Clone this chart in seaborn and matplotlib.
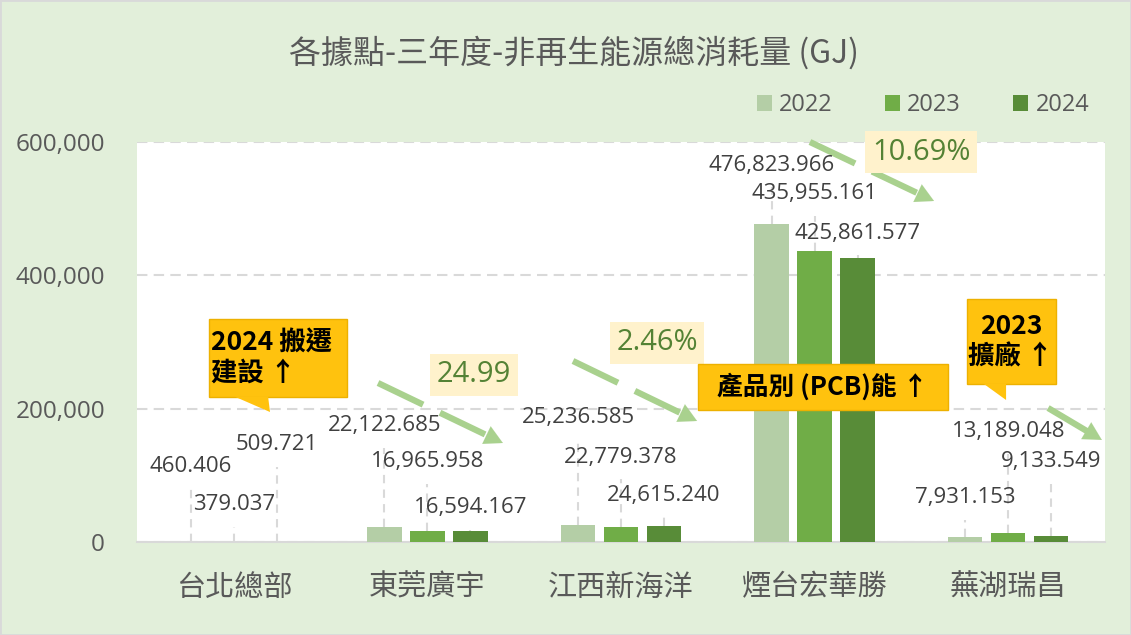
import pandas as pd
import matplotlib.pyplot as plt
import seaborn as sns
from matplotlib.patches import Patch, Rectangle, Polygon
from matplotlib.ticker import FuncFormatter

# data
sites = ['台北總部', '東莞廣宇', '江西新海洋', '煙台宏華勝', '蕪湖瑞昌']
years = ['2022', '2023', '2024']
v2022 = [460.406, 22122.685, 25236.585, 476823.966, 7931.153]
v2023 = [379.037, 16965.958, 22779.378, 435955.161, 13189.048]
v2024 = [509.721, 16594.167, 24615.240, 425861.577, 9133.549]
colors = ['#B4CEA6', '#70AD47', '#588C38']

# label heights (layout, data units)
lab_2022 = [112500, 174000, 187500, 565500, 66000]
lab_2023 = [55500, 120000, 127500, 522000, 165000]
lab_2024 = [145500, 51000, 70500, 463500, 120000]

df = pd.DataFrame({
    'site': sites * 3,
    'year': [y for y in years for _ in sites],
    'value': v2022 + v2023 + v2024,
})

plt.rcParams['font.family'] = ['Noto Sans CJK TC', 'DejaVu Sans']
num_font = ['Open Sans', 'DejaVu Sans']
grey = '#595959'

fig = plt.figure(figsize=(11.31, 6.35), dpi=100, facecolor='#E2EFDA')
ax = fig.add_axes([137 / 1131, 1 - 542 / 635, 968 / 1131, 400 / 635])
ax.set_facecolor('white')

sns.barplot(data=df, x='site', y='value', hue='year', palette=colors, saturation=1,
            width=0.666, gap=0.2, legend=False, ax=ax, zorder=3)

ax.set_xlim(-0.5, 4.5)
ax.set_ylim(0, 600000)
ax.set_yticks([0, 200000, 400000, 600000])
ax.yaxis.set_major_formatter(FuncFormatter(lambda v, p: f'{v:,.0f}'))
ax.set_xlabel('')
ax.set_ylabel('')
ax.grid(axis='y', color='#D9D9D9', linestyle=(0, (5, 3)), linewidth=1.5, zorder=0)
for s in ['top', 'left', 'right']:
    ax.spines[s].set_visible(False)
ax.spines['bottom'].set_color('#D9D9D9')
ax.spines['bottom'].set_linewidth(1.5)
ax.tick_params(axis='both', length=0)
ax.tick_params(axis='y', pad=23, labelsize=17.5, labelcolor=grey)
ax.tick_params(axis='x', pad=22, labelsize=21, labelcolor=grey)
for t in ax.get_yticklabels():
    t.set_family(num_font)

# value labels with dashed leader lines
labs = [lab_2022, lab_2023, lab_2024]
vals = [v2022, v2023, v2024]
for cont, ly, vv in zip(ax.containers, labs, vals):
    for bar, y, v in zip(cont, ly, vv):
        x = bar.get_x() + bar.get_width() / 2
        if y - 33000 > v:
            ax.plot([x, x], [v, y - 33000], color='#D9D9D9', lw=1.5,
                    ls=(0, (4, 3)), zorder=2)
        ax.text(x, y, f'{v:,.3f}', ha='center', va='center', fontsize=16,
                color='#404040', family=num_font, zorder=5)

# trend arrows
arrows = [((0.745, 238500), (1.390, 148500), (0, (8, 3))),
          ((1.752, 271500), (2.393, 181500), (0, (8, 3))),
          ((2.976, 600000), (3.617, 511500), (0, (8, 3))),
          ((4.206, 201000), (4.484, 153000), '-')]
acol = '#A9D18E'
for (x0, y0), (x1, y1), ls in arrows:
    fx = 0.86
    xm, ym = x0 + (x1 - x0) * fx, y0 + (y1 - y0) * fx
    ax.plot([x0, xm], [y0, ym], color=acol, lw=4.5, ls=ls,
            solid_capstyle='butt', clip_on=False, zorder=4)
    ax.annotate('', xy=(x1, y1), xytext=(xm, ym), annotation_clip=False,
                arrowprops=dict(arrowstyle='-|>,head_length=1.3,head_width=0.7',
                                color=acol, lw=0.1, shrinkA=0, shrinkB=0), zorder=4)

# percentage boxes
for x, y, s in [(1.241, 250500, '24.99'), (2.186, 298500, '2.46%'),
                (3.550, 585000, '10.69%')]:
    ax.text(x, y, s, ha='center', va='center', fontsize=21, color='#548235',
            family=num_font, zorder=6,
            bbox=dict(boxstyle='square,pad=0.22', fc='#FFF2CC', ec='none'))

# callout boxes
gold = '#FFC20E'
gold_ec = '#EDB100'
ax.add_patch(Rectangle((-0.128, 217500), 0.713, 117000, fc=gold, ec=gold_ec,
                       lw=1, clip_on=False, zorder=6))
ax.add_patch(Polygon([(0.001, 218500), (0.187, 195000), (0.177, 218500)],
                     fc=gold, ec='none', clip_on=False, zorder=6))
ax.text(-0.118, 276000, '2024 搬遷\n建設 ↑', ha='left', va='center',
        fontsize=19, fontweight='bold', linespacing=1.15, zorder=7)

ax.add_patch(Rectangle((2.398, 198000), 1.291, 69000, fc=gold, ec=gold_ec,
                       lw=1, clip_on=False, zorder=6))
ax.text(3.043, 232500, '產品別 (PCB)能 ↑', ha='center', va='center',
        fontsize=18.5, fontweight='bold', zorder=7)

ax.add_patch(Rectangle((3.787, 237000), 0.460, 127500, fc=gold, ec=gold_ec,
                       lw=1, clip_on=False, zorder=6))
ax.add_patch(Polygon([(3.870, 238000), (3.989, 213000), (3.989, 238000)],
                     fc=gold, ec='none', clip_on=False, zorder=6))
ax.text(4.014, 300000, '2023\n擴廠 ↑', ha='center', va='center',
        fontsize=19, fontweight='bold', linespacing=1.15, zorder=7)

# legend
handles = [Patch(fc=c, ec='none', label=y) for c, y in zip(colors, years)]
leg = fig.legend(handles=handles, loc='center', bbox_to_anchor=(923 / 1131, 1 - 105 / 635),
                 ncol=3, frameon=False, handlelength=0.65, handleheight=0.65,
                 handletextpad=0.3, columnspacing=2.2, fontsize=17)
for t in leg.get_texts():
    t.set_color(grey)
    t.set_family(num_font)

fig.text(574 / 1131, 1 - 53 / 635, '各據點-三年度-非再生能源總消耗量 (GJ)', ha='center',
         va='center', fontsize=23, color=grey)

fig.patches.append(Rectangle((0, 0), 1, 1, transform=fig.transFigure, fill=False,
                             ec='#D9D9D9', lw=2))

plt.savefig('out.png', dpi=100, facecolor=fig.get_facecolor())
